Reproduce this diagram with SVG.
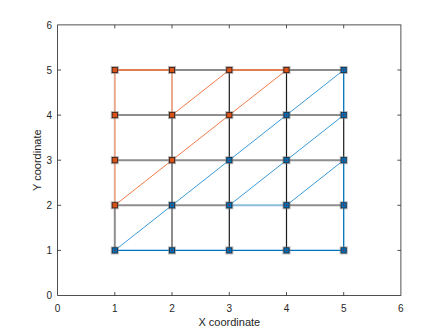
<svg xmlns="http://www.w3.org/2000/svg" width="443" height="332" viewBox="0 0 443 332">
<style>
.ax{fill:none;stroke:#262626;stroke-width:0.8}
.tk{stroke:#262626;stroke-width:0.8}
.tl{font-family:"Liberation Sans",Arial,sans-serif;font-size:10px;fill:#262626}
.lb{font-family:"Liberation Sans",Arial,sans-serif;font-size:11px;fill:#262626}
.or{stroke:#D95319;stroke-width:1.3;fill:none}
.lo{stroke:#EBA98D;stroke-width:2;fill:none}
.bl{stroke:#0072BD;stroke-width:1.3;fill:none}
.lbl{stroke:#8DBCDD;stroke-width:2;fill:none}
.gr{stroke:#8E8E8E;stroke-width:2;fill:none}
.bk{stroke:#1A1A1A;stroke-width:1.2;fill:none}
.do{stroke:#EE7C48;stroke-width:1;fill:none}
.db{stroke:#3B9AD8;stroke-width:1;fill:none}
.mo{fill:#D95319;stroke:#3a1a10;stroke-width:0.8}
.mb{fill:#0072BD;stroke:#102a40;stroke-width:0.8}
.mh{fill:#7a7a7a;fill-opacity:0.55}
</style>
<defs>
<g id="mko"><rect class="mh" x="-4" y="-4" width="8" height="8"/><rect class="mo" x="-2.6" y="-2.6" width="5.2" height="5.2"/></g>
<g id="mkb"><rect class="mh" x="-4" y="-4" width="8" height="8"/><rect class="mb" x="-2.6" y="-2.6" width="5.2" height="5.2"/><rect x="-0.7" y="-0.7" width="1.4" height="1.4" fill="#8a2020"/></g>
</defs>
<rect width="443" height="332" fill="#ffffff"/>
<g id="axes">
<rect class="ax" x="57.6" y="24.9" width="343.3" height="270.6" fill="#ffffff"/>
<g class="tk">
<line x1="114.8" y1="295.5" x2="114.8" y2="292"/><line x1="172" y1="295.5" x2="172" y2="292"/><line x1="229.3" y1="295.5" x2="229.3" y2="292"/><line x1="286.5" y1="295.5" x2="286.5" y2="292"/><line x1="343.7" y1="295.5" x2="343.7" y2="292"/>
<line x1="114.8" y1="24.9" x2="114.8" y2="28.4"/><line x1="172" y1="24.9" x2="172" y2="28.4"/><line x1="229.3" y1="24.9" x2="229.3" y2="28.4"/><line x1="286.5" y1="24.9" x2="286.5" y2="28.4"/><line x1="343.7" y1="24.9" x2="343.7" y2="28.4"/>
<line x1="57.6" y1="250.4" x2="61.1" y2="250.4"/><line x1="57.6" y1="205.3" x2="61.1" y2="205.3"/><line x1="57.6" y1="160.2" x2="61.1" y2="160.2"/><line x1="57.6" y1="115.1" x2="61.1" y2="115.1"/><line x1="57.6" y1="70" x2="61.1" y2="70"/>
<line x1="400.9" y1="250.4" x2="397.4" y2="250.4"/><line x1="400.9" y1="205.3" x2="397.4" y2="205.3"/><line x1="400.9" y1="160.2" x2="397.4" y2="160.2"/><line x1="400.9" y1="115.1" x2="397.4" y2="115.1"/><line x1="400.9" y1="70" x2="397.4" y2="70"/>
</g>
<g class="tl" text-anchor="middle">
<text x="57.6" y="312">0</text><text x="114.8" y="312">1</text><text x="172" y="312">2</text><text x="229.3" y="312">3</text><text x="286.5" y="312">4</text><text x="343.7" y="312">5</text><text x="400.9" y="312">6</text>
</g>
<g class="tl" text-anchor="end">
<text x="52" y="299">0</text><text x="52" y="254">1</text><text x="52" y="209">2</text><text x="52" y="164">3</text><text x="52" y="119">4</text><text x="52" y="73.5">5</text><text x="52" y="28.5">6</text>
</g>
<text class="lb" x="229.3" y="326" text-anchor="middle">X coordinate</text>
<text class="lb" transform="translate(41,160.2) rotate(-90)" text-anchor="middle">Y coordinate</text>
</g>
<g id="connectors">
<!-- gray interior -->
<line class="gr" x1="114.8" y1="115.1" x2="343.7" y2="115.1"/>
<line class="gr" x1="114.8" y1="160.2" x2="343.7" y2="160.2"/>
<line class="gr" x1="114.8" y1="205.3" x2="229.3" y2="205.3"/>
<line class="gr" x1="286.5" y1="205.3" x2="343.7" y2="205.3"/>
<line class="lbl" x1="229.3" y1="205.3" x2="286.5" y2="205.3"/>
<line class="gr" x1="114.8" y1="205.3" x2="114.8" y2="250.4"/>
<line class="gr" x1="172" y1="115.1" x2="172" y2="250.4"/>
<line class="lo" x1="114.8" y1="70" x2="114.8" y2="205.3"/>
<line class="lo" x1="172" y1="70" x2="172" y2="115.1"/>
<!-- black -->
<line class="bk" x1="229.3" y1="70" x2="229.3" y2="250.4"/>
<line class="bk" x1="286.5" y1="70" x2="286.5" y2="250.4"/>
<line class="bk" x1="172" y1="70" x2="229.3" y2="70"/>
<line class="bk" x1="286.5" y1="70" x2="343.7" y2="70"/>
<line class="bk" x1="343.7" y1="115.1" x2="343.7" y2="160.2"/>
<!-- orange -->
<line class="or" x1="114.8" y1="70" x2="172" y2="70"/>
<line class="or" x1="229.3" y1="70" x2="286.5" y2="70"/>
<!-- blue -->
<line class="bl" x1="114.8" y1="250.4" x2="343.7" y2="250.4"/>
<line class="bl" x1="343.7" y1="70" x2="343.7" y2="115.1"/>
<line class="bl" x1="343.7" y1="160.2" x2="343.7" y2="250.4"/>
<!-- diagonals -->
<line class="do" x1="114.8" y1="205.3" x2="286.5" y2="70"/>
<line class="do" x1="172" y1="115.1" x2="229.3" y2="70"/>
<line class="db" x1="114.8" y1="250.4" x2="343.7" y2="70"/>
<line class="db" x1="229.3" y1="205.3" x2="343.7" y2="115.1"/>
<line class="db" x1="286.5" y1="205.3" x2="343.7" y2="160.2"/>
</g>
<g id="n15"><use href="#mko" x="114.8" y="70"/></g>
<g id="n25"><use href="#mko" x="172" y="70"/></g>
<g id="n35"><use href="#mko" x="229.3" y="70"/></g>
<g id="n45"><use href="#mko" x="286.5" y="70"/></g>
<g id="n55"><use href="#mkb" x="343.7" y="70"/></g>
<g id="n14"><use href="#mko" x="114.8" y="115.1"/></g>
<g id="n24"><use href="#mko" x="172" y="115.1"/></g>
<g id="n34"><use href="#mko" x="229.3" y="115.1"/></g>
<g id="n44"><use href="#mkb" x="286.5" y="115.1"/></g>
<g id="n54"><use href="#mkb" x="343.7" y="115.1"/></g>
<g id="n13"><use href="#mko" x="114.8" y="160.2"/></g>
<g id="n23"><use href="#mko" x="172" y="160.2"/></g>
<g id="n33"><use href="#mkb" x="229.3" y="160.2"/></g>
<g id="n43"><use href="#mkb" x="286.5" y="160.2"/></g>
<g id="n53"><use href="#mkb" x="343.7" y="160.2"/></g>
<g id="n12"><use href="#mko" x="114.8" y="205.3"/></g>
<g id="n22"><use href="#mkb" x="172" y="205.3"/></g>
<g id="n32"><use href="#mkb" x="229.3" y="205.3"/></g>
<g id="n42"><use href="#mkb" x="286.5" y="205.3"/></g>
<g id="n52"><use href="#mkb" x="343.7" y="205.3"/></g>
<g id="n11"><use href="#mkb" x="114.8" y="250.4"/></g>
<g id="n21"><use href="#mkb" x="172" y="250.4"/></g>
<g id="n31"><use href="#mkb" x="229.3" y="250.4"/></g>
<g id="n41"><use href="#mkb" x="286.5" y="250.4"/></g>
<g id="n51"><use href="#mkb" x="343.7" y="250.4"/></g>
</svg>
